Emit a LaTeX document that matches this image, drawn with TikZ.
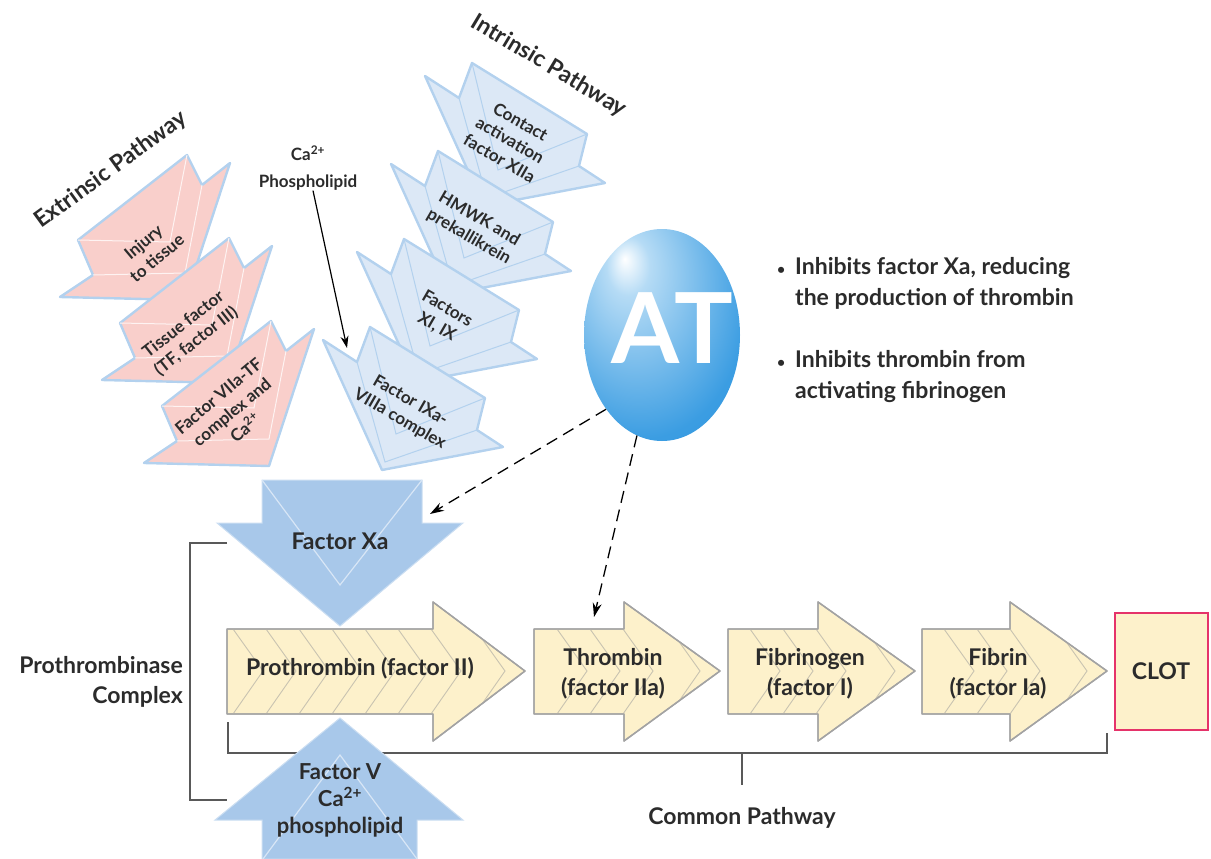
\documentclass[tikz,border=0pt]{standalone}
\usepackage{fontspec}
\setmainfont{Lato}
\usetikzlibrary{arrows.meta,shapes.geometric}

\definecolor{txtgray}{HTML}{2B2B2B}
\definecolor{pinkfill}{HTML}{F9CFCB}
\definecolor{foldblue}{HTML}{B3D1EE}
\definecolor{paleblue}{HTML}{DCE8F6}
\definecolor{xablue}{HTML}{A8C8EA}
\definecolor{cream}{HTML}{FDF1CB}
\definecolor{creamedge}{HTML}{A3A3A3}
\definecolor{stripe}{HTML}{C9C3B1}
\definecolor{clotred}{HTML}{E5336A}
\definecolor{atdeep}{HTML}{1C86D3}
\definecolor{atmid}{HTML}{3B9DE2}
\definecolor{atlight}{HTML}{B5DBF5}

\pgfdeclareradialshading{atball}{\pgfpoint{-12bp}{18bp}}{color(0bp)=(white); color(7bp)=(atlight); color(34bp)=(atmid); color(72bp)=(atdeep)}

\tikzset{
  lbl/.style={font=\bfseries\fontsize{23}{30}\selectfont, text=txtgray, align=center, inner sep=0pt},
  small lbl/.style={lbl, font=\bfseries\fontsize{17}{21}\selectfont},
  pinkfold/.style={fill=pinkfill, draw=foldblue, line width=2.4pt, line join=round},
  bluefold/.style={fill=paleblue, draw=foldblue, line width=2.4pt, line join=round},
  pinkcrease/.style={draw=white!75!pinkfill, line width=1pt},
  bluecrease/.style={draw=foldblue, line width=1pt},
  xafold/.style={fill=xablue, draw=white!40!xablue, line width=1pt},
  xacrease/.style={draw=white!55!xablue, line width=1.2pt},
  stepin/.style={fill=cream, draw=creamedge, line width=1.4pt, line join=round},
  hatch/.style={draw=stripe, line width=0.9pt},
  bracket/.style={draw=black!65, line width=1.6pt},
  inhib/.style={draw=black, line width=1.3pt, dash pattern=on 12pt off 7pt, -{Stealth[length=14pt,width=9pt]}}
}

\begin{document}
\begin{tikzpicture}[x=1pt,y=-1pt]
  \useasboundingbox (0,0) rectangle (1211,859);

  % brackets
  \draw[bracket] (227,543) -- (190,543) -- (190,800) -- (227,800);
  \draw[bracket] (228,722) -- (228,753) -- (1107,753) -- (1107,733);
  \draw[bracket] (742,753) -- (742,785);

  % extrinsic folds
  \foreach \k in {0,1,2}{
    \begin{scope}[shift={(42*\k,83*\k)}]
      \draw[pinkfold] (78,240) -- (187,155) -- (202,185) -- (230,163) -- (185,300) -- (60,297) -- (93,275) -- cycle;
      \draw[pinkcrease] (78,240) -- (170,242) -- (187,155) (93,275) -- (185,273) -- (202,185);
    \end{scope}
  }

  % intrinsic folds
  \foreach \k in {0,...,3}{
    \begin{scope}[shift={(-34*\k,88*\k)}]
      \draw[bluefold] (425,76) -- (459,98) -- (472,63) -- (587,134) -- (579,166) -- (605,183) -- (484,206) -- cycle;
      \draw[bluecrease] (472,63) -- (498,170) -- (587,134) (459,98) -- (487,198) -- (579,166);
    \end{scope}
  }

  % factor Xa and factor V
  \draw[xafold] (262,480) -- (422,480) -- (422,523) -- (463,523) -- (340,626) -- (217,523) -- (262,523) -- cycle;
  \draw[xacrease] (262,480) -- (340,585) -- (422,480);
  \draw[xafold] (340,718) -- (463,820) -- (417,820) -- (417,859) -- (262,859) -- (262,820) -- (215,820) -- cycle;
  \draw[xacrease] (263,859) -- (340,755) -- (417,859);

  % common pathway steps
  \foreach \l/\b/\t/\first/\second/\last in {227/433/525/233/266/431, 534/624/720/557/590/623,
                                             728/818/915/750/783/816, 922/1010/1107/944/977/1010}{
    \draw[stepin] (\l,629) -- (\b,629) -- (\b,602) -- (\t,671) -- (\b,741) -- (\b,714) -- (\l,714) -- cycle;
    \begin{scope}
      \clip (\l,629) -- (\b,629) -- (\b,602) -- (\t,671) -- (\b,741) -- (\b,714) -- (\l,714) -- cycle;
      \foreach \s in {\first,\second,...,\last}
        \draw[hatch] (\s,629) -- ++(30,42) -- ++(-30,43);
      \draw[hatch] (\t-50,629) -- (\t-20,671) -- (\t-50,714);
    \end{scope}
    \draw[stepin, fill=none] (\l,629) -- (\b,629) -- (\b,602) -- (\t,671) -- (\b,741) -- (\b,714) -- (\l,714) -- cycle;
  }
  \node[lbl, draw=clotred, line width=2pt, fill=cream, minimum width=93pt, minimum height=117pt] (clot) at (1161,671) {CLOT};

  % labels
  \node[lbl, rotate=36] (extr) at (111,170) {Extrinsic Pathway};
  \node[lbl, rotate=-31] (intr) at (549,66) {Intrinsic Pathway};
  \node[small lbl, rotate=40] (injury) at (150,250) {Injury\\to tissue};
  \node[small lbl, rotate=38] (tissue) at (190,333) {Tissue factor\\(TF, factor III)};
  \node[small lbl, rotate=40] (viia) at (232,412) {Factor VIIa-TF\\complex and\\Ca\textsuperscript{2+}};
  \node[small lbl, rotate=-30] (xiia) at (510,140) {Contact\\activation\\factor XIIa};
  \node[small lbl, rotate=-30] (hmwk) at (474,228) {HMWK and\\prekallikrein};
  \node[small lbl, rotate=-30] (xi) at (442,318) {Factors\\XI, IX};
  \node[small lbl, rotate=-30] (ixa) at (405,410) {Factor IXa-\\VIIIa complex};
  \node[lbl, font=\bfseries\fontsize{17}{27}\selectfont] (phos) at (308,168) {Ca\textsuperscript{2+}\\Phospholipid};
  \node[lbl] (xa) at (340,541) {Factor Xa};
  \node[lbl, font=\bfseries\fontsize{22}{27}\selectfont] (fv) at (340,800) {Factor V\\Ca\textsuperscript{2+}\\phospholipid};
  \node[lbl] (proth) at (360,668) {Prothrombin (factor II)};
  \node[lbl] (thromb) at (613,674) {Thrombin\\(factor IIa)};
  \node[lbl] (fibgen) at (810,674) {Fibrinogen\\(factor I)};
  \node[lbl] (fibrin) at (998,674) {Fibrin\\(factor Ia)};
  \node[lbl, anchor=east, align=right] (pcx) at (183,682) {Prothrombinase\\Complex};
  \node[lbl] (common) at (742,818) {Common Pathway};
  \node[lbl, anchor=west, align=left, font=\bfseries\fontsize{23}{31}\selectfont] (inh1) at (795,283)
    {\llap{\fontsize{14}{14}\selectfont\textbullet\hspace{10pt}}Inhibits factor Xa, reducing\\the production of thrombin};
  \node[lbl, anchor=west, align=left, font=\bfseries\fontsize{23}{31}\selectfont] (inh2) at (795,377)
    {\llap{\fontsize{14}{14}\selectfont\textbullet\hspace{10pt}}Inhibits thrombin from\\activating fibrinogen};

  % antithrombin
  \node[ellipse, minimum width=156pt, minimum height=212pt, inner sep=0pt, shade, shading=atball] (at) at (662,335) {};
  \node[font=\bfseries\fontsize{98}{98}\selectfont, text=white, inner sep=0pt] (atlbl) at (672,328) {A\kern-5pt T};

  % arrows
  \coordinate (ixin) at (347,348);
  \coordinate (xahit) at (430,514);
  \coordinate (thhit) at (594,617);
  \draw[line width=1.2pt, -{Stealth[length=12pt,width=8pt]}] ([xshift=5pt]phos.south) -- (ixin);
  \draw[inhib] (at.233) -- (xahit);
  \draw[inhib] (at.256) -- (thhit);
\end{tikzpicture}
\end{document}
